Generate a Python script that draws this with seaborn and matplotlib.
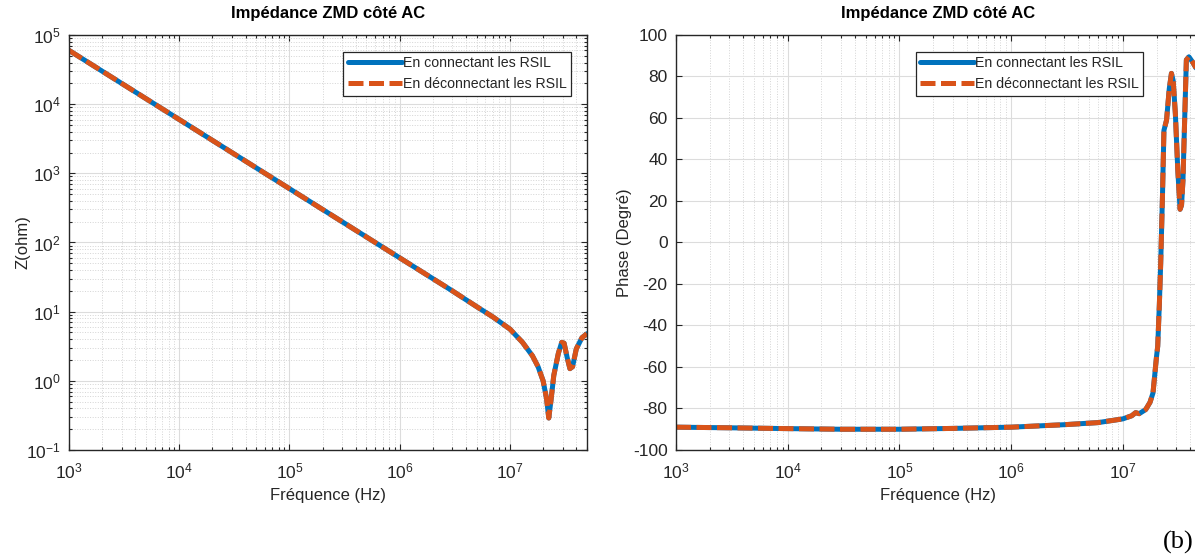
import matplotlib
matplotlib.use('Agg')
import matplotlib.pyplot as plt
import matplotlib.ticker as mticker
import numpy as np
import seaborn as sns

# frequence (Hz) et module |Z| (ohm)
freq_z = [1e3, 2e3, 5e3, 1e4, 2e4, 5e4, 1e5, 2e5, 5e5, 1e6, 2e6, 3e6, 5e6,
          7e6, 1e7, 1.3e7, 1.6e7, 1.8e7, 2.0e7, 2.15e7, 2.25e7, 2.35e7,
          2.5e7, 2.75e7, 2.95e7, 3.1e7, 3.3e7, 3.5e7, 3.7e7, 4.0e7, 4.5e7, 5.0e7]
z_connecte = [6.0e4, 3.0e4, 1.2e4, 6.0e3, 3.0e3, 1.2e3, 600, 300, 120, 60,
              30, 20, 11.8, 8.4, 5.6, 3.6, 2.3, 1.6, 1.0, 0.55, 0.29, 0.5,
              1.2, 2.5, 3.6, 3.5, 2.2, 1.5, 1.6, 2.9, 4.2, 4.8]
z_deconnecte = list(z_connecte)

# frequence (Hz) et phase (degre)
freq_ph = [1e3, 3e3, 1e4, 3e4, 1e5, 3e5, 1e6, 3e6, 6e6, 1e7, 1.2e7, 1.3e7,
           1.4e7, 1.6e7, 1.75e7, 1.86e7, 2.0e7, 2.05e7, 2.12e7, 2.18e7,
           2.26e7, 2.33e7, 2.46e7, 2.6e7, 2.72e7, 2.82e7, 2.95e7, 3.1e7,
           3.25e7, 3.35e7, 3.45e7, 3.55e7, 3.7e7, 3.9e7, 4.2e7, 5e7]
ph_connecte = [-89.0, -89.3, -89.7, -90.0, -90.0, -89.6, -89.0, -87.8, -86.8,
               -85.0, -83.5, -82.0, -82.5, -80.5, -77.0, -72.5, -55.0, -50.0,
               -30.0, -10.0, 22.0, 54.0, 59.0, 74.0, 81.5, 78.0, 62.0, 35.0,
               16.0, 18.0, 30.0, 54.0, 88.0, 89.5, 87.0, 80.0]
ph_deconnecte = list(ph_connecte)

labels = ['En connectant les RSIL', 'En déconnectant les RSIL']
titre = 'Impédance ZMD côté AC'

sns.set_theme(style='ticks')
plt.rcParams['font.family'] = ['Liberation Sans', 'DejaVu Sans']
plt.rcParams['mathtext.default'] = 'regular'
plt.rcParams['axes.unicode_minus'] = False
txt = '#262626'
blue = '#0072BD'
orange = '#D95319'

fig = plt.figure(figsize=(11.95, 5.59), dpi=100)
ax1 = fig.add_axes([0.0577, 0.195, 0.4335, 0.7424])
ax2 = fig.add_axes([0.5657, 0.195, 0.4393, 0.7424])


def draw(ax, x, y1, y2):
    sns.lineplot(x=x, y=y1, ax=ax, color=blue, linewidth=3.6, label=labels[0],
                 estimator=None, sort=False)
    sns.lineplot(x=x, y=y2, ax=ax, color=orange, linewidth=3.6, label=labels[1],
                 estimator=None, sort=False, linestyle=(0, (3, 1.1)))


draw(ax1, freq_z, z_connecte, z_deconnecte)
draw(ax2, freq_ph, ph_connecte, ph_deconnecte)

ax1.set_xscale('log')
ax1.set_yscale('log')
ax1.set_xlim(1e3, 5e7)
ax1.set_ylim(1e-1, 1e5)
ax1.set_ylabel('Z(ohm)', fontsize=12, color=txt, labelpad=-3)

ax2.set_xscale('log')
ax2.set_xlim(1e3, 5e7)
ax2.set_ylim(-100, 100)
ax2.set_yticks(np.arange(-100, 101, 20))
ax2.set_ylabel('Phase (Degré)', fontsize=12, color=txt, labelpad=1)

for ax, legx in ((ax1, 0.4778), (ax2, 0.9565)):
    ax.set_title(titre, fontsize=12, fontweight='bold', color='black', pad=12)
    ax.set_xlabel('Fréquence (Hz)', fontsize=12, color=txt, labelpad=5)
    ax.xaxis.set_major_locator(mticker.LogLocator(base=10, numticks=10))
    ax.xaxis.set_minor_locator(mticker.LogLocator(base=10, subs=np.arange(2, 10), numticks=10))
    ax.xaxis.set_minor_formatter(mticker.NullFormatter())
    ax.tick_params(which='both', direction='in', top=True, right=True,
                   colors=txt, labelsize=12.5, width=0.8)
    ax.tick_params(which='major', length=4.5, pad=6)
    ax.tick_params(axis='x', which='major', pad=8)
    ax.tick_params(which='minor', length=2.5)
    ax.grid(which='major', color='#dcdcdc', linewidth=0.8, linestyle='-')
    ax.grid(which='minor', axis='x', color='#d4d4d4', linewidth=0.7, linestyle=':')
    ax.set_axisbelow(True)
    for sp in ax.spines.values():
        sp.set_color(txt)
        sp.set_linewidth(1.0)
    leg = ax.legend(loc='upper right', bbox_to_anchor=(legx, 0.907),
                    bbox_transform=fig.transFigure, borderaxespad=0,
                    fancybox=False, framealpha=1, edgecolor='#262626',
                    fontsize=10.2, handlelength=3.8, handletextpad=0.1,
                    borderpad=0.3, labelspacing=0.5)
    leg.get_frame().set_linewidth(0.9)

ax1.yaxis.set_major_locator(mticker.LogLocator(base=10, numticks=10))
ax1.yaxis.set_minor_locator(mticker.LogLocator(base=10, subs=np.arange(2, 10), numticks=10))
ax1.yaxis.set_minor_formatter(mticker.NullFormatter())
ax1.grid(which='minor', axis='y', color='#d4d4d4', linewidth=0.7, linestyle=':')

fig.text(0.999, 0.018, '(b)', fontsize=19, family='Liberation Serif',
         ha='right', va='baseline', color='black')

fig.savefig('out.png', dpi=100)
